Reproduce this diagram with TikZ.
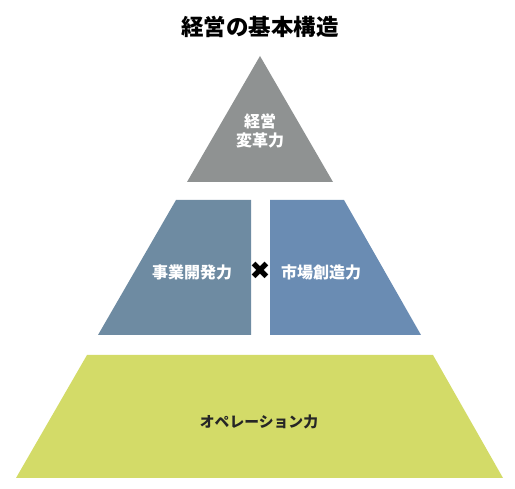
\documentclass[tikz,border=0pt]{standalone}
\usepackage{fontspec}
\newfontfamily\jpfont{Noto Sans CJK JP}
\newfontfamily\symfont{DejaVu Sans}
\usetikzlibrary{positioning}

\definecolor{topgray}{HTML}{8F9292}
\definecolor{devblue}{HTML}{6E8BA2}
\definecolor{mktblue}{HTML}{6A8CB3}
\definecolor{opsgreen}{HTML}{D3DB68}

\begin{document}
\begin{tikzpicture}[x=1pt,y=-1pt,inner sep=0pt,
  tier/.style={font=\jpfont\bfseries\fontsize{16}{19}\selectfont,text=white,align=center},
  opsword/.style={font=\jpfont\bfseries\fontsize{14.8}{18}\selectfont,text=black!85}]
  \useasboundingbox (0,0) rectangle (515,489);
  % pyramid
  \fill[topgray] (260,56) -- (333,182) -- (187,182) -- cycle;
  \fill[devblue] (176,200) -- (251,200) -- (251,335) -- (98,335) -- cycle;
  \fill[mktblue] (270,200) -- (344,200) -- (421,335) -- (270,335) -- cycle;
  \fill[opsgreen] (87,355) -- (433,355) -- (503,478) -- (16,478) -- cycle;
  % texts
  \node[font=\jpfont\bfseries\fontsize{22.5}{24}\selectfont] (title) at (260,27) {経営の基本構造};
  \node[tier] (reform) at (260,131) {経営\\変革力};
  \node[font=\symfont\fontsize{25}{26}\selectfont] (times) at (260,271) {✖};
  \node[tier] (dev) at (192,272) {事業開発力};
  \node[tier] (mkt) at (321,272) {市場創造力};
  \node[opsword] (ops) at (259,422) {オペレーション力};
\end{tikzpicture}
\end{document}
